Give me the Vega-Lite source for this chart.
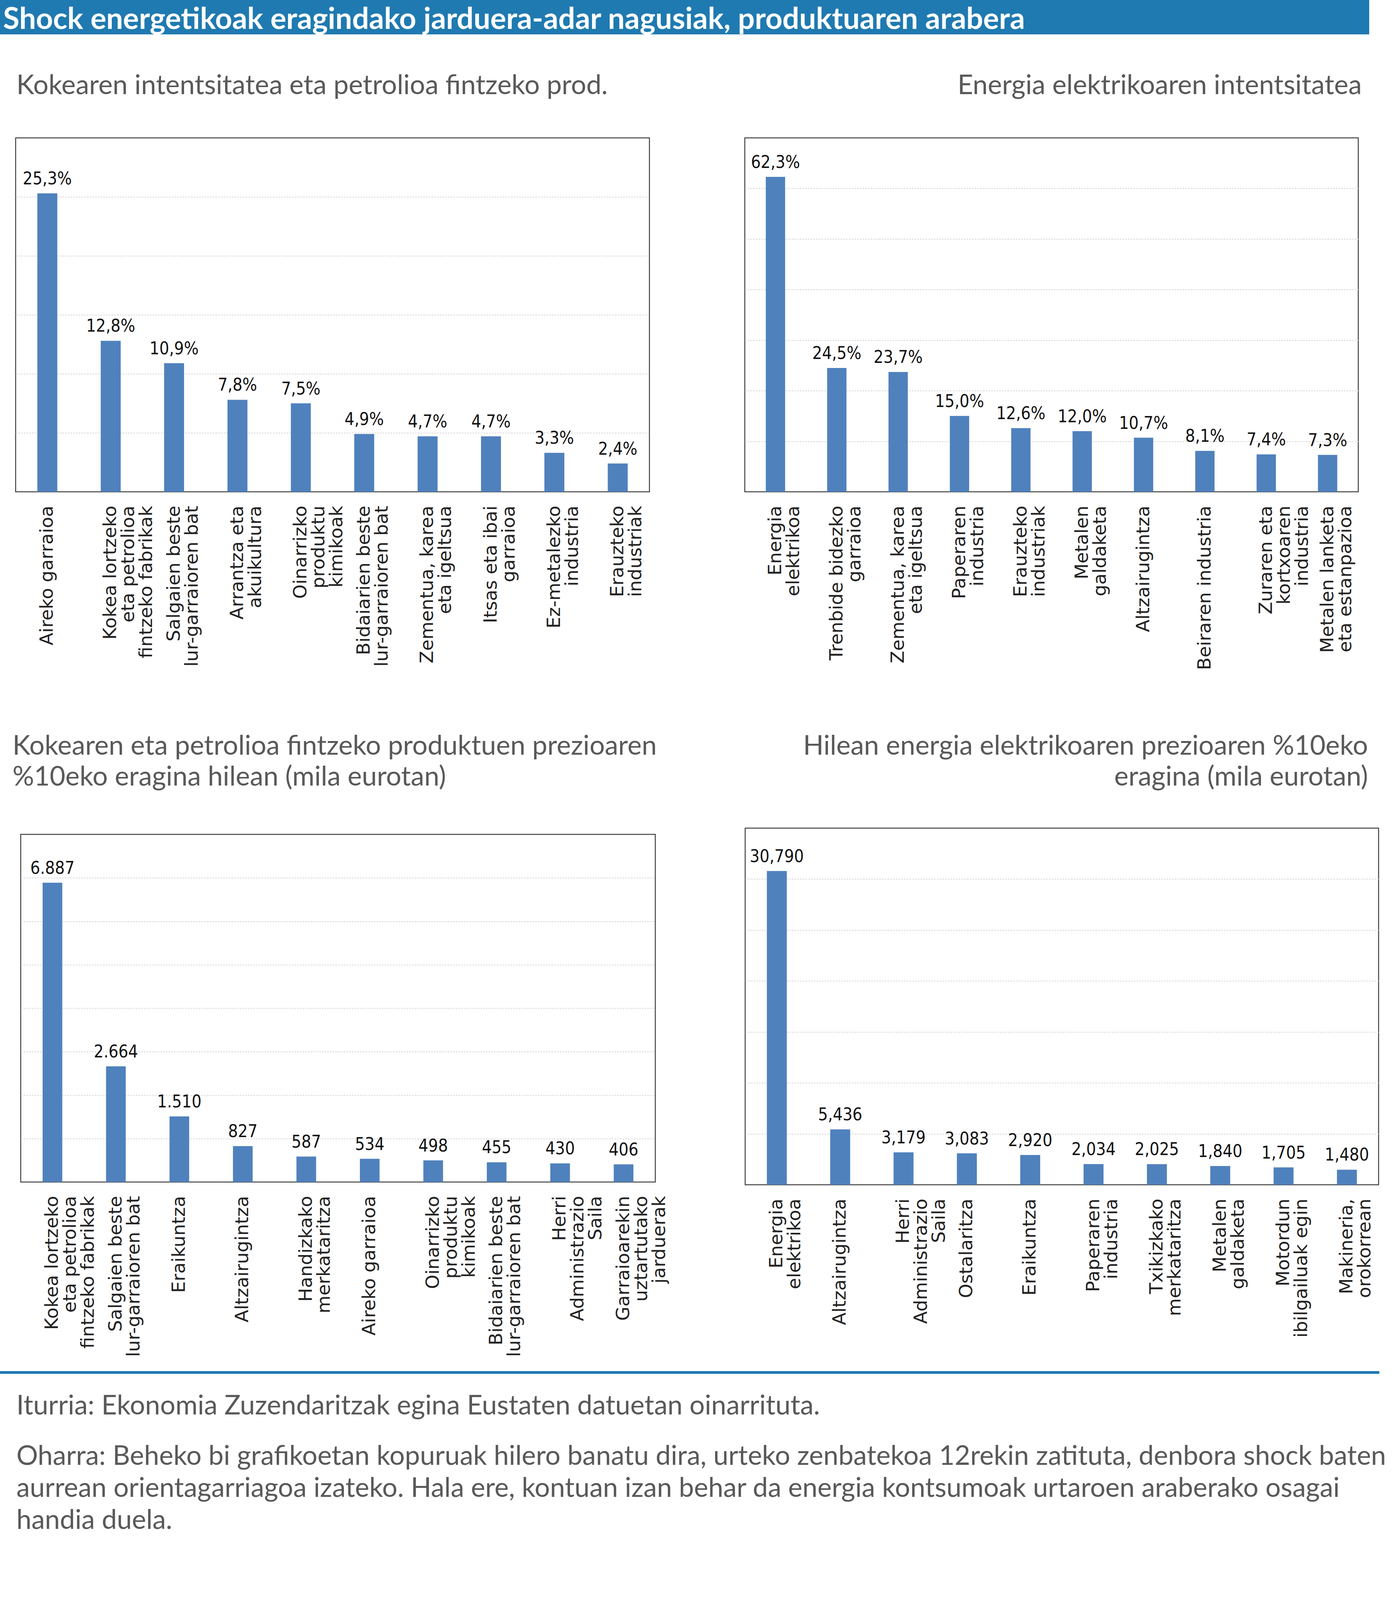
{
  "$schema": "https://vega.github.io/schema/vega-lite/v6.json",
  "padding": 0,
  "background": "white",
  "config": {
    "view": {"stroke": "#404040", "strokeWidth": 2.5},
    "font": "Lato",
    "title": {"font": "Lato", "fontWeight": "normal", "color": "#595959", "fontSize": 69, "frame": "group"},
    "axisX": {
      "labelAngle": -90, "labelAlign": "right", "labelBaseline": "middle", "labelPadding": 35,
      "labelFont": "DejaVu Sans", "labelFontSize": 47, "labelLineHeight": 46, "labelColor": "#222222",
      "labelLimit": 3000, "labelOverlap": false, "labelBound": false,
      "ticks": false, "domain": false, "title": null, "grid": false,
      "labelExpr": "split(datum.label, '|')"
    },
    "axisY": {
      "labels": false, "ticks": false, "domain": false, "title": null, "grid": true,
      "gridColor": "#d4d4d4", "gridDash": [4, 3], "gridWidth": 2
    },
    "bar": {"color": "#4f81bd"},
    "text": {"font": "DejaVu Sans Condensed, Liberation Sans, sans-serif", "fontSize": 44, "color": "#111111", "baseline": "alphabetic", "dy": -23}
  },
  "vconcat": [
    {
      "width": 3504, "height": 88,
      "view": {"fill": "#1f7ab1", "stroke": null},
      "data": {"values": []},
      "mark": "point",
      "encoding": {},
      "title": {
        "text": "Shock energetikoak eragindako jarduera-adar nagusiak, produktuaren arabera",
        "orient": "top", "anchor": "start", "frame": "group", "offset": -150, "baseline": "alphabetic",
        "dx": 8, "color": "white", "font": "Lato", "fontWeight": "bold", "fontSize": 76
      }
    },
    {"width": 1, "height": 265, "view": {"stroke": null}, "data": {"values": []}, "mark": "point", "encoding": {}},
    {
      "hconcat": [
        {"width": 40, "height": 1, "view": {"stroke": null}, "data": {"values": []}, "mark": "point", "encoding": {}},
        {
          "width": 1622, "height": 906,
          "title": {"text": "Kokearen intentsitatea eta petrolioa fintzeko prod.", "anchor": "start", "offset": 43, "baseline": "alphabetic", "dx": 2},
          "data": {"values": [
            {"c": "Aireko garraioa", "v": 25.3, "t": "25,3%"},
            {"c": "Kokea lortzeko|eta petrolioa|fintzeko fabrikak", "v": 12.8, "t": "12,8%"},
            {"c": "Salgaien beste|lur-garraioren bat", "v": 10.9, "t": "10,9%"},
            {"c": "Arrantza eta|akuikultura", "v": 7.8, "t": "7,8%"},
            {"c": "Oinarrizko|produktu|kimikoak", "v": 7.5, "t": "7,5%"},
            {"c": "Bidaiarien beste|lur-garraioren bat", "v": 4.9, "t": "4,9%"},
            {"c": "Zementua, karea|eta igeltsua", "v": 4.7, "t": "4,7%"},
            {"c": "Itsas eta ibai|garraioa", "v": 4.7, "t": "4,7%"},
            {"c": "Ez-metalezko|industria", "v": 3.3, "t": "3,3%"},
            {"c": "Erauzteko|industriak", "v": 2.4, "t": "2,4%"}
          ]},
          "encoding": {
            "x": {"field": "c", "type": "nominal", "sort": null, "scale": {"paddingInner": 0.685, "paddingOuter": 0.3425}},
            "y": {"field": "v", "type": "quantitative", "scale": {"domain": [0, 30], "nice": false}, "axis": {"values": [5, 10, 15, 20, 25]}}
          },
          "layer": [
            {"mark": {"type": "bar"}},
            {"mark": {"type": "text"}, "encoding": {"text": {"field": "t"}}}
          ]
        },
        {"width": 244, "height": 1, "view": {"stroke": null}, "data": {"values": []}, "mark": "point", "encoding": {}},
        {
          "width": 1570, "height": 906,
          "title": {"text": "Energia elektrikoaren intentsitatea", "anchor": "end", "offset": 43, "baseline": "alphabetic", "dx": 9},
          "data": {"values": [
            {"c": "Energia|elektrikoa", "v": 62.3, "t": "62,3%"},
            {"c": "Trenbide bidezko|garraioa", "v": 24.5, "t": "24,5%"},
            {"c": "Zementua, karea|eta igeltsua", "v": 23.7, "t": "23,7%"},
            {"c": "Paperaren|industria", "v": 15.0, "t": "15,0%"},
            {"c": "Erauzteko|industriak", "v": 12.6, "t": "12,6%"},
            {"c": "Metalen|galdaketa", "v": 12.0, "t": "12,0%"},
            {"c": "Altzairugintza", "v": 10.7, "t": "10,7%"},
            {"c": "Beiraren industria", "v": 8.1, "t": "8,1%"},
            {"c": "Zuraren eta|kortxoaren|industria", "v": 7.4, "t": "7,4%"},
            {"c": "Metalen lanketa|eta estanpazioa", "v": 7.3, "t": "7,3%"}
          ]},
          "encoding": {
            "x": {"field": "c", "type": "nominal", "sort": null, "scale": {"paddingInner": 0.685, "paddingOuter": 0.3425}},
            "y": {"field": "v", "type": "quantitative", "scale": {"domain": [0, 70], "nice": false}, "axis": {"values": [10, 20, 30, 40, 50, 60]}}
          },
          "layer": [
            {"mark": {"type": "bar"}},
            {"mark": {"type": "text"}, "encoding": {"text": {"field": "t"}}}
          ]
        }
      ],
      "spacing": 0,
      "bounds": "flush"
    },
    {"width": 1, "height": 1767, "view": {"stroke": null}, "data": {"values": []}, "mark": "point", "encoding": {}},
    {
      "hconcat": [
        {"width": 53, "height": 1, "view": {"stroke": null}, "data": {"values": []}, "mark": "point", "encoding": {}},
        {
          "vconcat": [
            {"width": 1, "height": 16, "view": {"stroke": null}, "data": {"values": []}, "mark": "point", "encoding": {}},
            {
              "width": 1624, "height": 890,
              "title": {"text": ["Kokearen eta petrolioa fintzeko produktuen prezioaren", "%10eko eragina hilean (mila eurotan)"], "anchor": "start", "offset": 42, "baseline": "bottom", "lineHeight": 79, "dx": -21},
              "data": {"values": [
                {"c": "Kokea lortzeko|eta petrolioa|fintzeko fabrikak", "v": 6887, "t": "6.887"},
                {"c": "Salgaien beste|lur-garraioren bat", "v": 2664, "t": "2.664"},
                {"c": "Eraikuntza", "v": 1510, "t": "1.510"},
                {"c": "Altzairugintza", "v": 827, "t": "827"},
                {"c": "Handizkako|merkataritza", "v": 587, "t": "587"},
                {"c": "Aireko garraioa", "v": 534, "t": "534"},
                {"c": "Oinarrizko|produktu|kimikoak", "v": 498, "t": "498"},
                {"c": "Bidaiarien beste|lur-garraioren bat", "v": 455, "t": "455"},
                {"c": "Herri|Administrazio|Saila", "v": 430, "t": "430"},
                {"c": "Garraioarekin|uztartutako|jarduerak", "v": 406, "t": "406"}
              ]},
              "encoding": {
                "x": {"field": "c", "type": "nominal", "sort": null, "scale": {"paddingInner": 0.69, "paddingOuter": 0.345}},
                "y": {"field": "v", "type": "quantitative", "scale": {"domain": [0, 8000], "nice": false}, "axis": {"values": [1000, 2000, 3000, 4000, 5000, 6000, 7000]}}
              },
              "layer": [
                {"mark": {"type": "bar"}},
                {"mark": {"type": "text"}, "encoding": {"text": {"field": "t"}}}
              ]
            }
          ],
          "spacing": 0,
          "bounds": "flush"
        },
        {"width": 1854, "height": 1, "view": {"stroke": null}, "data": {"values": []}, "mark": "point", "encoding": {}},
        {
          "width": 1621, "height": 913,
          "title": {"text": ["Hilean energia elektrikoaren prezioaren %10eko", "eragina (mila eurotan)"], "anchor": "end", "offset": 26, "baseline": "bottom", "lineHeight": 79, "dx": -27},
          "data": {"values": [
            {"c": "Energia|elektrikoa", "v": 30790, "t": "30,790"},
            {"c": "Altzairugintza", "v": 5436, "t": "5,436"},
            {"c": "Herri|Administrazio|Saila", "v": 3179, "t": "3,179"},
            {"c": "Ostalaritza", "v": 3083, "t": "3,083"},
            {"c": "Eraikuntza", "v": 2920, "t": "2,920"},
            {"c": "Paperaren|industria", "v": 2034, "t": "2,034"},
            {"c": "Txikizkako|merkataritza", "v": 2025, "t": "2,025"},
            {"c": "Metalen|galdaketa", "v": 1840, "t": "1,840"},
            {"c": "Motordun|ibilgailuak egin", "v": 1705, "t": "1,705"},
            {"c": "Makineria,|orokorrean", "v": 1480, "t": "1,480"}
          ]},
          "encoding": {
            "x": {"field": "c", "type": "nominal", "sort": null, "scale": {"paddingInner": 0.685, "paddingOuter": 0.3425}},
            "y": {"field": "v", "type": "quantitative", "scale": {"domain": [0, 35000], "nice": false}, "axis": {"values": [5000, 10000, 15000, 20000, 25000, 30000]}}
          },
          "layer": [
            {"mark": {"type": "bar"}},
            {"mark": {"type": "text"}, "encoding": {"text": {"field": "t"}}}
          ]
        }
      ],
      "spacing": 0,
      "bounds": "flush"
    },
    {"width": 1, "height": 1390, "view": {"stroke": null}, "data": {"values": []}, "mark": "point", "encoding": {}},
    {
      "width": 3530, "height": 7,
      "view": {"fill": "#1f7ab1", "stroke": null},
      "data": {"values": []},
      "mark": "point",
      "encoding": {},
      "title": {
        "text": "Iturria: Ekonomia Zuzendaritzak egina Eustaten datuetan oinarrituta.",
        "subtitle": [
          "Oharra: Beheko bi grafikoetan kopuruak hilero banatu dira, urteko zenbatekoa 12rekin zatituta, denbora shock baten",
          "aurrean orientagarriagoa izateko. Hala ere, kontuan izan behar da energia kontsumoak urtaroen araberako osagai",
          "handia duela."
        ],
        "orient": "bottom", "anchor": "start", "frame": "group", "offset": 104, "baseline": "alphabetic", "dx": 42,
        "fontSize": 69, "color": "#595959", "font": "Lato", "fontWeight": "normal",
        "subtitleFont": "Lato", "subtitleFontSize": 69, "subtitleColor": "#595959", "subtitleLineHeight": 82, "subtitlePadding": 60
      }
    }
  ],
  "spacing": 0,
  "bounds": "flush"
}
